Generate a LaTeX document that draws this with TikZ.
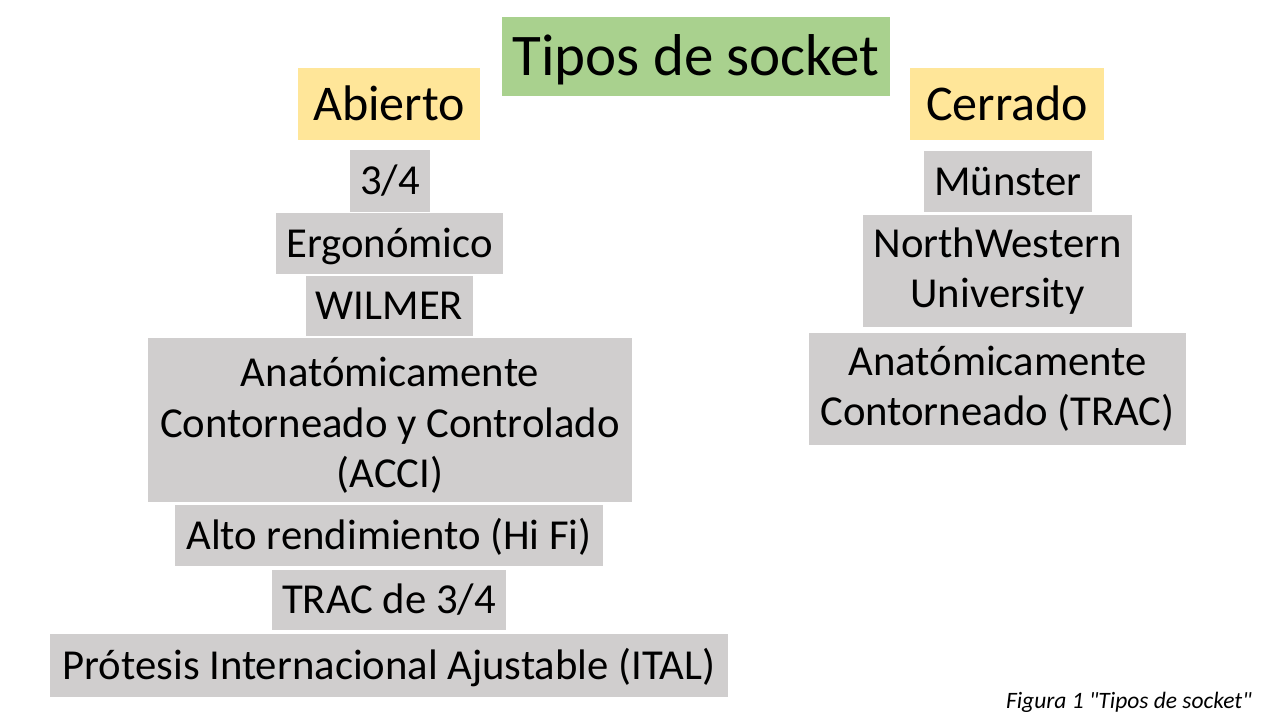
\documentclass[tikz,border=0pt]{standalone}
\usepackage{fontspec}
\setmainfont{Carlito}
\definecolor{hdgreen}{HTML}{A9D18E}
\definecolor{hdyellow}{HTML}{FFE699}
\definecolor{itgray}{HTML}{D0CECE}
\begin{document}
\begin{tikzpicture}[x=1pt,y=-1pt,
  box/.style={inner sep=0pt,align=center,text=black},
  titlebox/.style={box,fill=hdgreen,font=\fontsize{59}{66}\selectfont,text height=52pt,text depth=14pt},
  headbox/.style={box,fill=hdyellow,font=\fontsize{50}{56}\selectfont,text height=44pt,text depth=12pt},
  itembox/.style={box,fill=itgray,font=\fontsize{42.7}{50}\selectfont,text height=37.5pt,text depth=10pt},
  itemmulti/.style={box,fill=itgray,font=\fontsize{42.7}{50.5}\selectfont},
  capt/.style={inner sep=0pt,font=\fontsize{23.5}{26}\selectfont\itshape,text=black}]
\useasboundingbox (0,0) rectangle (1280,720);
\node[titlebox,minimum width=388pt,minimum height=79pt] (title) at (696,56.5) {Tipos de socket};
\node[headbox,minimum width=182pt,minimum height=72pt] (abierto) at (389,104) {Abierto};
\node[headbox,minimum width=194pt,minimum height=72pt] (cerrado) at (1007,104) {Cerrado};
% left column
\node[itembox,minimum width=80pt,minimum height=62pt] (a1) at (390,181) {3/4};
\node[itembox,minimum width=227pt,minimum height=61pt] (a2) at (389.5,243.5) {Ergonómico};
\node[itembox,minimum width=167pt,minimum height=60pt] (a3) at (389.5,306) {WILMER};
\node[itemmulti,minimum width=484pt,minimum height=164pt] (a4) at (390,420) {\rule{0pt}{40pt}Anatómicamente\\Contorneado y Controlado\\(ACCI)};
\node[itembox,minimum width=428pt,minimum height=61pt] (a5) at (389,535.5) {Alto rendimiento (Hi Fi)};
\node[itembox,minimum width=234pt,minimum height=60pt] (a6) at (389,600) {TRAC de 3/4};
\node[itembox,minimum width=678pt,minimum height=63pt] (a7) at (389,665.5) {Prótesis Internacional Ajustable (ITAL)};
% right column
\node[itembox,minimum width=168pt,minimum height=61pt] (c1) at (1008,181.5) {Münster};
\node[itemmulti,minimum width=269pt,minimum height=112pt] (c2) at (997.5,271) {NorthWestern\\University};
\node[itemmulti,minimum width=377pt,minimum height=112pt] (c3) at (997.5,389) {Anatómicamente\\Contorneado (TRAC)};
% caption
\node[capt,anchor=base east] (cap) at (1252,708) {Figura 1 \textquotedbl Tipos de socket\textquotedbl};
\end{tikzpicture}
\end{document}
